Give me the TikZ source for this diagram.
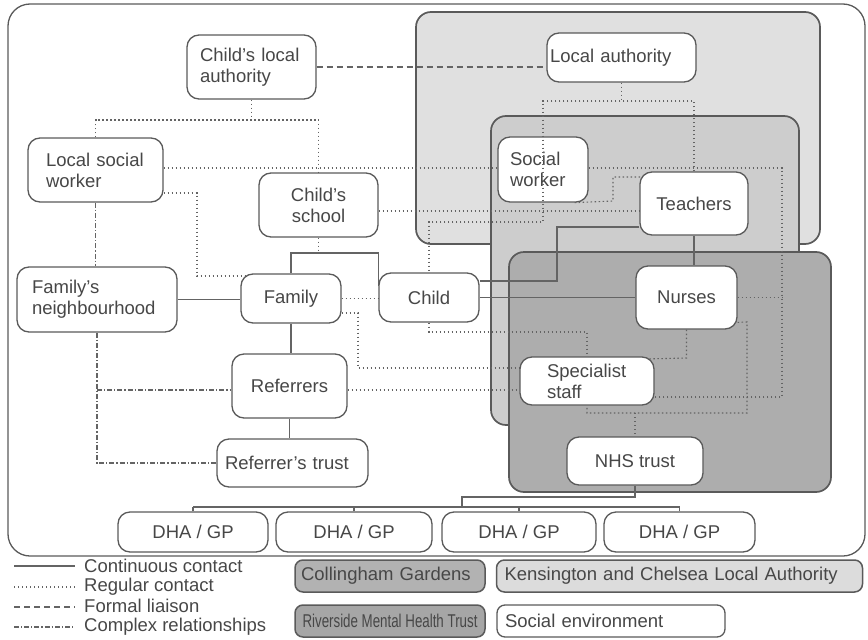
\documentclass[tikz,border=0pt]{standalone}
\usepackage{fontspec}
\usepackage{graphicx}
\setmainfont{Liberation Sans}
\newcommand\diagfont{\fontsize{18.5pt}{21pt}\selectfont}
\definecolor{edgegray}{HTML}{5A5A5A}
\definecolor{inkgray}{HTML}{474747}
\definecolor{linkgray}{HTML}{646464}
\definecolor{kcfill}{HTML}{E0E0E0}
\definecolor{cgfill}{HTML}{CDCDCD}
\definecolor{rmfill}{HTML}{ADADAD}
\definecolor{cglegend}{HTML}{B2B2B2}
\definecolor{kclegend}{HTML}{DCDCDC}
\definecolor{rmlegend}{HTML}{A6A6A6}
\pgfdeclarelayer{regions}
\pgfdeclarelayer{links}
\pgfdeclarelayer{overlinks}
\pgfsetlayers{regions,links,main,overlinks}
\tikzset{
  boxnode/.style={draw=edgegray, fill=white, rounded corners=12pt, line width=1.3pt,
    inner sep=0pt, text=inkgray, font=\diagfont},
  regionbox/.style={draw=edgegray, rounded corners=15pt, line width=1.7pt},
  linkbase/.style={draw=linkgray, line width=1.1pt},
  contline/.style={linkbase},
  regline/.style={linkbase, dash pattern=on 1.4pt off 2.6pt},
  formalline/.style={linkbase, dash pattern=on 6pt off 4pt},
  complexline/.style={linkbase, dash pattern=on 5pt off 2pt on 1.2pt off 2pt},
  legtext/.style={anchor=west, inner sep=0pt, text=inkgray, font=\diagfont},
  legbox/.style={draw=edgegray, rounded corners=8pt, line width=1.5pt, inner sep=0pt,
    minimum height=32pt, text=inkgray, font=\diagfont, align=left},
}
\begin{document}
\begin{tikzpicture}[x=1pt,y=-1pt]
\useasboundingbox (0,0) rectangle (868,640);

% ---- frame and organisational regions ----
\begin{pgfonlayer}{regions}
\draw[draw=edgegray, line width=1.3pt, rounded corners=22pt] (8,4) rectangle (865,556);
\draw[regionbox, fill=kcfill] (416,12) rectangle (820,244);
\draw[regionbox, fill=cgfill] (491,116) rectangle (799,425);
\draw[regionbox, fill=rmfill] (509,252) rectangle (831,492);
\end{pgfonlayer}

% ---- boxes ----
\node[boxnode, minimum width=129pt, minimum height=64pt, text width=103pt, align=left] (cla) at (251.5,67) {Child's local\\authority};
\node[boxnode, minimum width=149pt, minimum height=49pt, text width=143pt, align=left] (la) at (621.5,57.5) {Local authority};
\node[boxnode, minimum width=135pt, minimum height=64pt, text width=99pt, align=left] (lsw) at (95.5,170) {Local social\\worker};
\node[boxnode, minimum width=90pt, minimum height=65pt, text width=66pt, align=left] (sw) at (543,169.5) {Social\\worker};
\node[boxnode, minimum width=119pt, minimum height=64pt, align=center] (cs) at (318.5,205) {Child's\\school};
\node[boxnode, minimum width=108pt, minimum height=63pt, align=center] (teach) at (694,203.5) {Teachers};
\node[boxnode, minimum width=160pt, minimum height=65pt, text width=130pt, align=left] (fn) at (97,299.5) {Family's\\neighbourhood};
\node[boxnode, minimum width=100pt, minimum height=49pt, align=center] (fam) at (291,298.5) {Family};
\node[boxnode, minimum width=100pt, minimum height=49pt, align=center] (child) at (429,297.5) {Child};
\node[boxnode, minimum width=101pt, minimum height=63pt, align=center] (nurses) at (686.5,297.5) {Nurses};
\node[boxnode, minimum width=115pt, minimum height=64pt, align=center] (ref) at (289.5,386) {Referrers};
\node[boxnode, minimum width=134pt, minimum height=48pt, text width=80pt, align=left] (spec) at (587,381) {Specialist\\staff};
\node[boxnode, minimum width=151pt, minimum height=48pt, text width=135pt, align=left] (rtrust) at (292.5,463) {Referrer's trust};
\node[boxnode, minimum width=136pt, minimum height=48pt, align=center] (nhs) at (635,461) {NHS trust};
\node[boxnode, minimum width=150pt, minimum height=40pt, align=center] (dha1) at (193,532) {DHA / GP};
\node[boxnode, minimum width=156pt, minimum height=40pt, align=center] (dha2) at (354,532) {DHA / GP};
\node[boxnode, minimum width=154pt, minimum height=40pt, align=center] (dha3) at (519,532) {DHA / GP};
\node[boxnode, minimum width=151pt, minimum height=40pt, align=center] (dha4) at (679.5,532) {DHA / GP};

% ---- connectors, under the boxes ----
\begin{pgfonlayer}{links}
% formal liaison
\draw[formalline] (cla.east) -- (cla.east -| la.west);

% regular contact
\draw[regline] (cla.south) -- (cla.south |- 0,120);
\draw[regline] (lsw.north) -- (lsw.north |- 0,120) -- (cs.north |- 0,120) -- (cs.north);
\draw[regline] (lsw.east |- 0,168) -- (sw.west |- 0,168);
\draw[regline] (sw.east |- 0,168) -- (782,168) -- (782,397) -- (spec.east |- 0,397);
\draw[regline] (nurses.east) -- (nurses.east -| 782,0);
\draw[regline] (la.south) -- (la.south |- 0,101);
\draw[regline] ([xshift=-14pt]sw.south east) -- (613,201) -- (613,177) -- ([xshift=10pt]teach.north west |- 0,177);
\draw[regline] (cs.east |- 0,211) -- (teach.west |- 0,211);
\draw[regline] (lsw.east |- 0,193) -- (197,193) -- (197,276) -- ([xshift=10pt]fam.west |- 0,276);
\draw[regline] (cs.south) -- (cs.south |- 0,253);
\draw[regline] (fam.east) -- (fam.east -| child.west);
\draw[regline] (fam.east |- 0,313) -- (358,313) -- (358,368) -- (spec.west |- 0,368);
\draw[regline] (ref.east |- 0,390) -- (spec.west |- 0,390);
\draw[regline] (child.south) -- (child.south |- 0,332) -- (spec.north |- 0,332) -- (spec.north);
\draw[regline] (nurses.south) -- (nurses.south |- 0,358) -- ([xshift=-10pt]spec.north east |- 0,359);
\draw[regline] ([xshift=-8pt,yshift=7pt]nurses.south east) -- (747,322) -- (747,413) -- (spec.south |- 0,413) -- (spec.south);
\draw[regline] (nhs.north |- 0,413) -- (nhs.north);

% continuous contact
\draw[contline] (fn.east) -- (fn.east -| fam.west);
\draw[contline] (fam.north) -- (fam.north |- 0,253) -- (child.west |- 0,253) -- (child.west |- 0,286);
\draw[contline] (fam.south) -- (fam.south |- ref.north);
\draw[contline] (ref.south) -- (ref.south |- rtrust.north);
\draw[contline] (teach.south) -- (teach.south |- nurses.north);
\draw[contline] (teach.west |- 0,227) -- (557,227) -- (557,281) -- (child.east |- 0,281);
\draw[contline] (child.east) -- (child.east -| nurses.west);
\draw[contline] (nhs.south) -- (nhs.south |- 0,497) -- (462,497) -- (462,507);
\draw[contline] (dha1.north |- 0,507) -- (dha4.north |- 0,507);
\foreach \d in {dha1,dha2,dha3,dha4} \draw[contline] (\d.north) -- (\d.north |- 0,507);

% complex relationships
\draw[complexline] (lsw.south) -- (lsw.south |- fn.north);
\draw[complexline] (fn.south) -- (fn.south |- 0,463) -- (rtrust.west);
\draw[complexline] (fn.south |- 0,390) -- (ref.west |- 0,390);
\end{pgfonlayer}

% the local authority's link to the child runs across the social worker box
\begin{pgfonlayer}{overlinks}
\draw[regline] (teach.north) -- (teach.north |- 0,101) -- (543,101) -- (543,222) -- (child.north |- 0,222) -- (child.north);
\end{pgfonlayer}

% ---- legend ----
\coordinate (k1) at (14,566);
\coordinate (k2) at (14,587);
\coordinate (k3) at (14,607);
\coordinate (k4) at (14,627);
\draw[contline] (k1) -- ++(61,0);
\draw[regline] (k2) -- ++(61,0);
\draw[formalline] (k3) -- ++(61,0);
\draw[complexline] (k4) -- ++(61,0);
\node[legtext] (t1) at (84,566) {Continuous contact};
\node[legtext] (t2) at (84,587) {Regular contact};
\node[legtext] (t3) at (84,606) {Formal liaison};
\node[legtext] (t4) at (84,627) {Complex relationships};

\node[legbox, fill=cglegend, minimum width=190pt, text width=178pt] (lcg) at (390,576) {Collingham Gardens};
\node[legbox, fill=kclegend, minimum width=366pt, text width=350pt] (lkc) at (679.5,576) {Kensington and Chelsea Local Authority};
\node[legbox, fill=rmlegend, minimum width=190pt, align=center] (lrm) at (390,621) {\scalebox{0.72}[1]{Riverside Mental Health Trust}};
\node[legbox, fill=white, line width=1.3pt, minimum width=228pt, text width=212pt] (lse) at (611,621) {Social environment};
\end{tikzpicture}
\end{document}
